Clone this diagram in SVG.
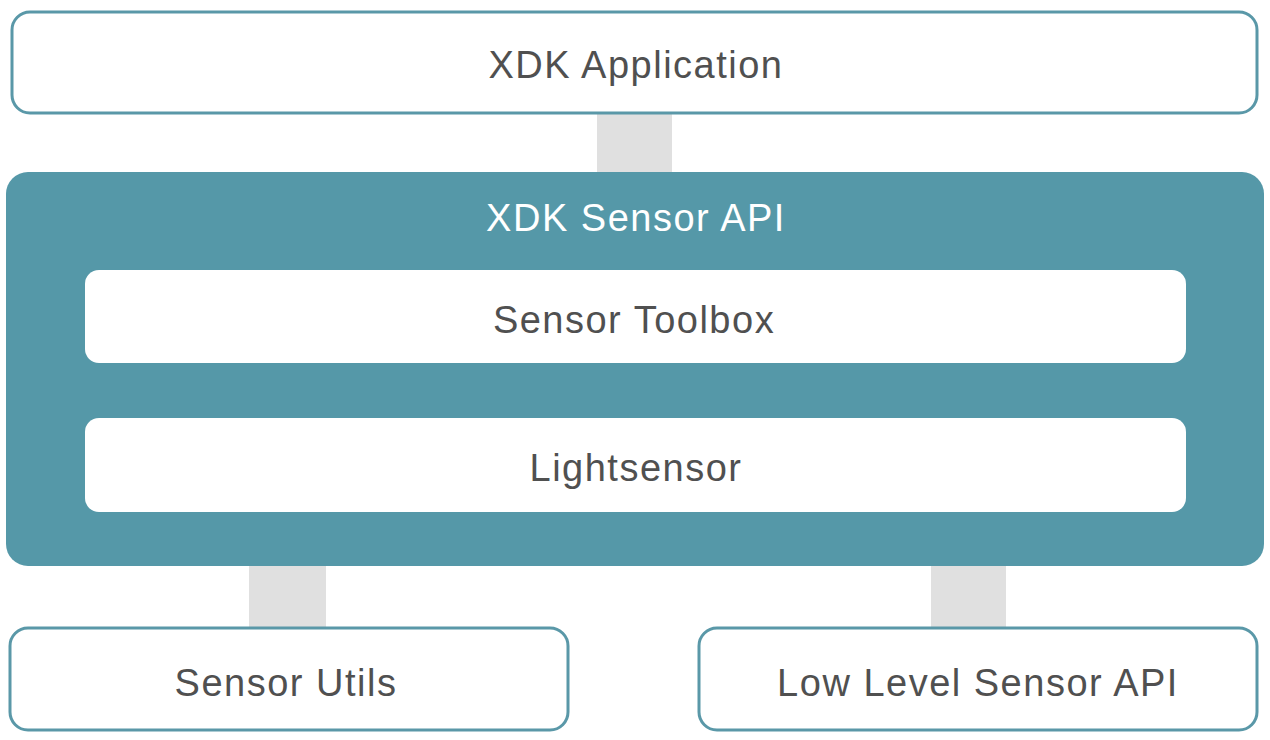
<svg xmlns="http://www.w3.org/2000/svg" width="1270" height="740" viewBox="0 0 1270 740">
<style>
.box{fill:#fff;stroke:#5a98a8;stroke-width:3}
.inner{fill:#fff}
.conn{fill:#e0e0e0}
text{font-family:"Liberation Sans",Arial,sans-serif;font-size:38px;fill:#505050;text-anchor:middle;letter-spacing:1.5px}
.w{fill:#fff}
</style>
<rect width="1270" height="740" fill="#fff"/>
<g id="connectors">
<rect class="conn" x="597" y="113" width="75" height="60"/>
<rect class="conn" x="597" y="370" width="75" height="42"/>
<rect class="conn" x="249" y="566" width="77" height="62"/>
<rect class="conn" x="931" y="566" width="75" height="62"/>
</g>
<g id="xdk-application">
<rect class="box" x="12" y="12" width="1245" height="101" rx="18"/>
<text x="636" y="78">XDK Application</text>
</g>
<g id="xdk-sensor-api">
<rect x="6" y="172" width="1258" height="394" rx="22" fill="#5598a8"/>
<text class="w" x="636" y="231">XDK Sensor API</text>
</g>
<g id="sensor-toolbox">
<rect class="inner" x="85" y="270" width="1101" height="93" rx="14"/>
<text x="634" y="333">Sensor Toolbox</text>
</g>
<g id="lightsensor">
<rect class="inner" x="85" y="418" width="1101" height="94" rx="14"/>
<text x="636" y="481">Lightsensor</text>
</g>
<g id="sensor-utils">
<rect class="box" x="10" y="628" width="558" height="102" rx="18"/>
<text x="286" y="696">Sensor Utils</text>
</g>
<g id="low-level-sensor-api">
<rect class="box" x="699" y="628" width="558" height="102" rx="18"/>
<text x="978" y="696">Low Level Sensor API</text>
</g>
</svg>
